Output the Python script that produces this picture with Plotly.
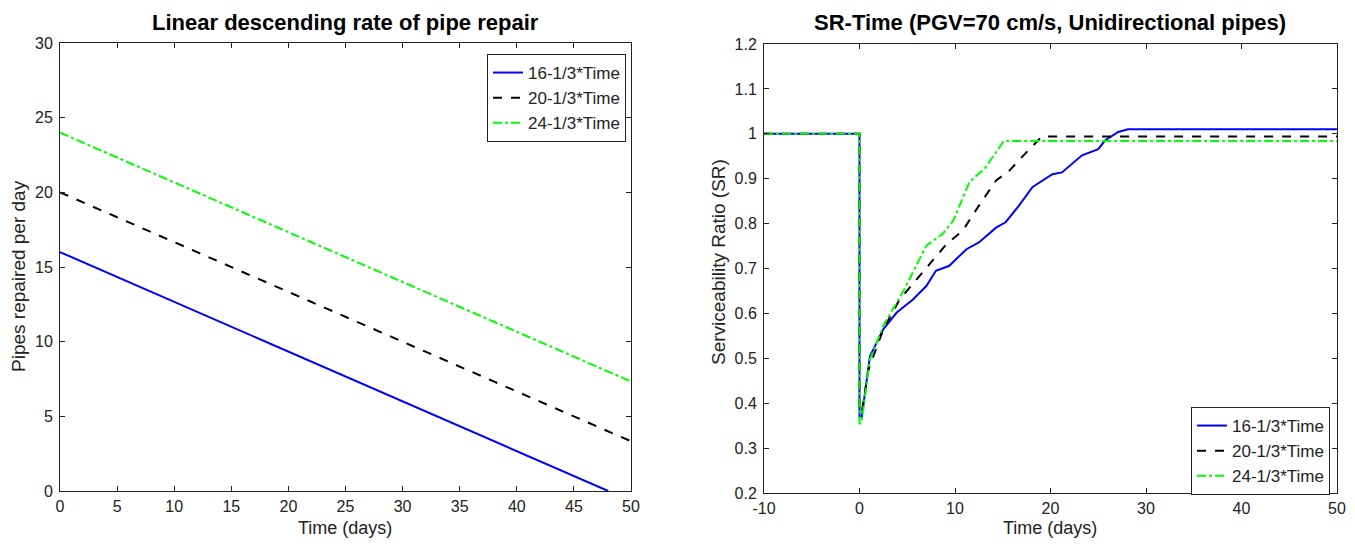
import plotly.graph_objects as go

# ---- Left chart data (linear repair rates) ----
left_t_blue = [0, 48]
left_v_blue = [16, 0]
left_t_black = [0, 50]
left_v_black = [20, 3.33]
left_t_green = [0, 50]
left_v_green = [24, 7.33]

# ---- Right chart data (SR - Time) ----
sr_t_blue = [-10, 0, 0, 0.24, 1.1, 2.5, 3.9, 5.6, 7.0, 8.0, 9.4, 11.2, 12.5, 14.3, 15.3,
             16.7, 18.1, 20.2, 21.2, 23.3, 25.0, 25.7, 27.1, 28.1, 50]
sr_v_blue = [1.0, 1.0, 0.37, 0.37, 0.505, 0.565, 0.602, 0.631, 0.661, 0.695, 0.706, 0.743,
             0.758, 0.791, 0.803, 0.840, 0.881, 0.910, 0.914, 0.952, 0.966, 0.985, 1.004,
             1.01, 1.01]

sr_t_black = [-10, 0, 0, 0.24, 0.94, 2.5, 4.2, 6.3, 9.1, 10.8, 12.5, 14.3, 15.7, 17.0, 19.1, 50]
sr_v_black = [1.0, 1.0, 0.38, 0.38, 0.475, 0.565, 0.631, 0.684, 0.754, 0.784, 0.840, 0.896,
              0.918, 0.948, 0.994, 0.994]

sr_t_green = [-10, 0, 0, 0.2, 1.1, 2.5, 4.6, 7.0, 8.7, 9.8, 11.5, 13.2, 15.1, 50]
sr_v_green = [1.0, 1.0, 0.355, 0.355, 0.498, 0.573, 0.650, 0.751, 0.777, 0.806, 0.892,
              0.925, 0.984, 0.984]

names = ["16-1/3*Time", "20-1/3*Time", "24-1/3*Time"]
colors = ["#0000ff", "#000000", "#00ff00"]
dashes = ["solid", "dash", "dashdot"]

left_x_ticks = [0, 5, 10, 15, 20, 25, 30, 35, 40, 45, 50]
left_y_ticks = [0, 5, 10, 15, 20, 25, 30]
right_x_ticks = [-10, 0, 10, 20, 30, 40, 50]
right_x_text = ["-10", "0", "10", "20", "30", "40", "50"]
right_y_ticks = [0.2, 0.3, 0.4, 0.5, 0.6, 0.7, 0.8, 0.9, 1.0, 1.1, 1.2]
right_y_text = ["0.2", "0.3", "0.4", "0.5", "0.6", "0.7", "0.8", "0.9", "1", "1.1", "1.2"]

FONT = "Liberation Sans, Arial, sans-serif"
TXT = "#222222"

fig = go.Figure()

left_data = [(left_t_blue, left_v_blue), (left_t_black, left_v_black), (left_t_green, left_v_green)]
for (t, v), n, c, d in zip(left_data, names, colors, dashes):
    fig.add_trace(go.Scatter(x=t, y=v, mode="lines", name=n, xaxis="x", yaxis="y",
                             line=dict(color=c, dash=d, width=2), legend="legend"))

right_data = [(sr_t_blue, sr_v_blue), (sr_t_black, sr_v_black), (sr_t_green, sr_v_green)]
for (t, v), n, c, d in zip(right_data, names, colors, dashes):
    fig.add_trace(go.Scatter(x=t, y=v, mode="lines", name=n, xaxis="x2", yaxis="y2",
                             line=dict(color=c, dash=d, width=2), legend="legend2"))

# page body has an 8px margin: figure is drawn offset by 8px
OFF = 8
W, H = 1355 - OFF, 546 - OFF
ML, MR, MT, MB = 60 - OFF, 1355 - 1337, 43 - OFF, 546 - 493
PW, PH = W - ML - MR, H - MT - MB


def fx(p):
    return (p - OFF - ML) / PW


def fy(p):
    return (H - MB - (p - OFF)) / PH


axis_common = dict(showline=True, linecolor="#222222", linewidth=1, mirror="ticks",
                   ticks="inside", ticklen=5, tickcolor="#222222", showgrid=False,
                   zeroline=False, automargin=False,
                   tickfont=dict(family=FONT, size=16, color=TXT))

legend_common = dict(xanchor="right", yanchor="top", bgcolor="white",
                     bordercolor="#222222", borderwidth=1, tracegroupgap=0,
                     font=dict(family=FONT, size=17, color=TXT))

fig.update_layout(
    width=W, height=H,
    margin=dict(l=ML, r=MR, t=MT, b=MB, autoexpand=False),
    paper_bgcolor="white", plot_bgcolor="white",
    font=dict(family=FONT, size=16, color=TXT),
    xaxis=dict(domain=[fx(60), fx(631)], range=[0, 50], tickvals=left_x_ticks,
               anchor="y", ticklabelstandoff=1, **axis_common),
    yaxis=dict(domain=[fy(491), fy(43)], range=[0, 30], tickvals=left_y_ticks,
               anchor="x", ticklabelstandoff=3, **axis_common),
    xaxis2=dict(domain=[fx(764), fx(1337)], range=[-10, 50], tickvals=right_x_ticks,
                ticktext=right_x_text, anchor="y2", ticklabelstandoff=1, **axis_common),
    yaxis2=dict(domain=[fy(493), fy(44)], range=[0.2, 1.2], tickvals=right_y_ticks,
                ticktext=right_y_text, anchor="x2", ticklabelstandoff=3, **axis_common),
    legend=dict(x=fx(626), y=fy(54), **legend_common),
    legend2=dict(x=fx(1330), y=fy(407), **legend_common),
)

annots = [
    ("<b>Linear descending rate of pipe repair</b>", 345, 22, 0, 22, "black"),
    ("<b>SR-Time (PGV=70 cm/s, Unidirectional pipes)</b>", 1050, 22, 0, 22, "black"),
    ("Time (days)", 345, 528, 0, 18, TXT),
    ("Time (days)", 1050, 528, 0, 18, TXT),
    ("Pipes repaired per day", 18, 276, -90, 19, TXT),
    ("Serviceability Ratio (SR)", 718, 262, -90, 19, TXT),
]
for text, px, py, ang, size, col in annots:
    fig.add_annotation(text=text, x=fx(px), y=fy(py), xref="paper", yref="paper",
                       showarrow=False, xanchor="center", yanchor="middle", textangle=ang,
                       font=dict(family=FONT, size=size, color=col))

fig.write_html("out.html")
